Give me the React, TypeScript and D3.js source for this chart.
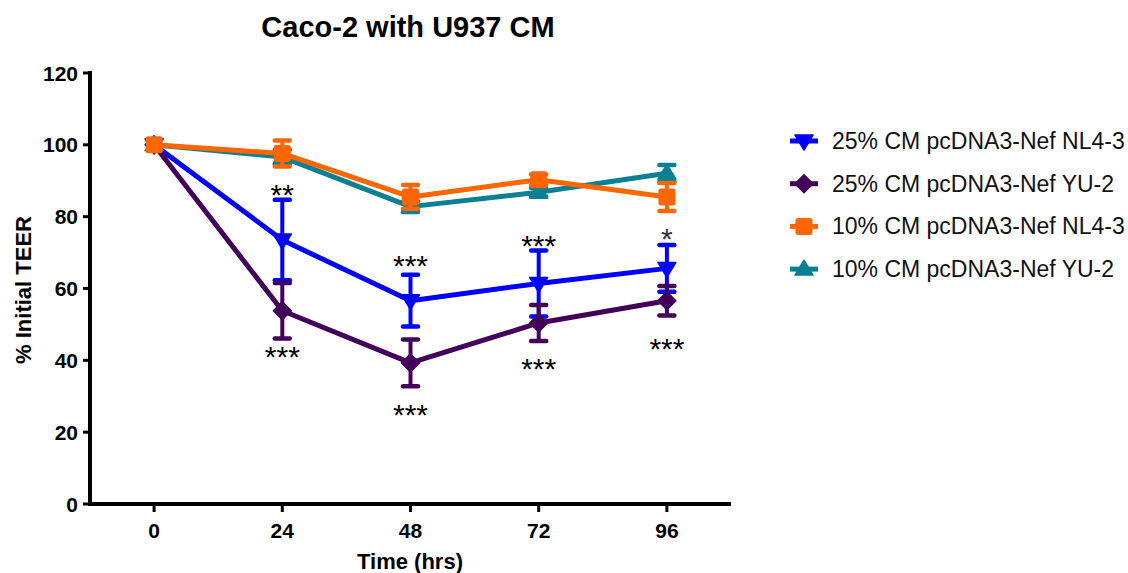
import React, { useRef, useEffect } from "react";
import * as d3 from "d3";

// time points (hrs)
const times = [0, 24, 48, 72, 96];
const xTicks = [0, 24, 48, 72, 96];
const yTicks = [0, 20, 40, 60, 80, 100, 120];

const seriesNames = [
  "25% CM pcDNA3-Nef NL4-3",
  "25% CM pcDNA3-Nef YU-2",
  "10% CM pcDNA3-Nef NL4-3",
  "10% CM pcDNA3-Nef YU-2",
];

const nl43_25 = [100, 73.5, 56.6, 61.4, 65.6];
const nl43_25Err = [0, 11.2, 7.2, 9.2, 6.5];
const yu2_25 = [100, 53.8, 39.3, 50.4, 56.6];
const yu2_25Err = [0, 7.7, 6.5, 5.0, 4.1];
const nl43_10 = [100, 97.6, 85.5, 90.3, 85.5];
const nl43_10Err = [0, 3.6, 3.3, 1.5, 3.9];
const yu2_10 = [100, 96.6, 82.8, 86.8, 92.1];
const yu2_10Err = [0, 2.0, 1.5, 1.2, 2.3];

// significance labels (label, y in % units) at 24, 48, 72, 96 hrs
const starsAbove = ["**", "***", "***", "*"];
const starsAboveY = [88, 68.2, 73.8, 75.8];
const starsBelow = ["***", "***", "***", "***"];
const starsBelowY = [42.9, 26.7, 39.6, 45.2];

const FONT = "'Liberation Sans', Arial, sans-serif";

const App = () => {
  const chartRef = useRef(null);

  useEffect(() => {
    const root = d3.select(chartRef.current);
    root.select("svg").remove();

    const width = 1128;
    const height = 573;

    const svg = root
      .append("svg")
      .attr("width", width)
      .attr("height", height)
      .style("position", "absolute")
      .style("left", "0px")
      .style("top", "0px")
      .style("font-family", FONT);

    const x = d3.scaleLinear().domain([-12, 108]).range([90, 731]);
    const y = d3.scaleLinear().domain([0, 120]).range([504, 73]);

    const series = [
      { name: seriesNames[0], vals: nl43_25, err: nl43_25Err, color: "#0000ff", shape: "tridown" },
      { name: seriesNames[1], vals: yu2_25, err: yu2_25Err, color: "#42005a", shape: "diamond" },
      { name: seriesNames[3], vals: yu2_10, err: yu2_10Err, color: "#0b7f93", shape: "triup" },
      { name: seriesNames[2], vals: nl43_10, err: nl43_10Err, color: "#ff6600", shape: "square" },
    ];

    const shapePath = (shape) => {
      if (shape === "tridown") return "M-9,-6L9,-6L0,9Z";
      if (shape === "triup") return "M-9,6L9,6L0,-9Z";
      if (shape === "diamond") return "M0,-9L9,0L0,9L-9,0Z";
      return null;
    };

    const drawMarker = (g, shape, color, cx, cy) => {
      if (shape === "square") {
        g.append("rect")
          .attr("x", cx - 8.5)
          .attr("y", cy - 8.5)
          .attr("width", 17)
          .attr("height", 17)
          .attr("rx", 2.5)
          .attr("fill", color);
      } else {
        g.append("path")
          .attr("d", shapePath(shape))
          .attr("transform", `translate(${cx},${cy})`)
          .attr("fill", color)
          .attr("stroke", color)
          .attr("stroke-width", 1.5)
          .attr("stroke-linejoin", "round");
      }
    };

    // axes
    const axisG = svg.append("g").attr("stroke", "#000");
    axisG.append("line").attr("x1", 90).attr("x2", 90).attr("y1", y(120) - 2).attr("y2", y(0) + 2).attr("stroke-width", 4);
    axisG.append("line").attr("x1", 88).attr("x2", 731).attr("y1", y(0)).attr("y2", y(0)).attr("stroke-width", 4);

    yTicks.forEach((t) => {
      axisG.append("line").attr("x1", 83).attr("x2", 90).attr("y1", y(t)).attr("y2", y(t)).attr("stroke-width", 3);
      svg
        .append("text")
        .attr("x", 78)
        .attr("y", y(t))
        .attr("text-anchor", "end")
        .attr("dominant-baseline", "central")
        .style("font-size", "21px")
        .style("font-weight", "bold")
        .text(t);
    });

    xTicks.forEach((t) => {
      axisG.append("line").attr("x1", x(t)).attr("x2", x(t)).attr("y1", y(0)).attr("y2", y(0) + 8).attr("stroke-width", 3);
      svg
        .append("text")
        .attr("x", x(t))
        .attr("y", 530)
        .attr("text-anchor", "middle")
        .attr("dominant-baseline", "central")
        .style("font-size", "21px")
        .style("font-weight", "bold")
        .text(t);
    });

    svg
      .append("text")
      .attr("x", 410)
      .attr("y", 561)
      .attr("text-anchor", "middle")
      .attr("dominant-baseline", "central")
      .style("font-size", "22px")
      .style("font-weight", "bold")
      .text("Time (hrs)");

    svg
      .append("text")
      .attr("transform", `translate(23,290) rotate(-90)`)
      .attr("text-anchor", "middle")
      .attr("dominant-baseline", "central")
      .style("font-size", "22px")
      .style("font-weight", "bold")
      .text("% Initial TEER");

    svg
      .append("text")
      .attr("x", 408)
      .attr("y", 27)
      .attr("text-anchor", "middle")
      .attr("dominant-baseline", "central")
      .style("font-size", "29px")
      .style("font-weight", "bold")
      .text("Caco-2 with U937 CM");

    // series
    const line = d3
      .line()
      .x((d) => x(d[0]))
      .y((d) => y(d[1]));

    series.forEach((s) => {
      const g = svg.append("g");
      const pts = times.map((t, i) => [t, s.vals[i]]);
      g.append("path")
        .attr("d", line(pts))
        .attr("fill", "none")
        .attr("stroke", s.color)
        .attr("stroke-width", 5)
        .attr("stroke-linejoin", "round");

      times.forEach((t, i) => {
        const e = s.err[i];
        if (!e) return;
        const cx = x(t);
        const top = y(s.vals[i] + e);
        const bot = y(s.vals[i] - e);
        g.append("line").attr("x1", cx).attr("x2", cx).attr("y1", top).attr("y2", bot).attr("stroke", s.color).attr("stroke-width", 4);
        [top, bot].forEach((cy) => {
          g.append("line")
            .attr("x1", cx - 7.5)
            .attr("x2", cx + 7.5)
            .attr("y1", cy)
            .attr("y2", cy)
            .attr("stroke", s.color)
            .attr("stroke-width", 4.5)
            .attr("stroke-linecap", "round");
        });
      });

      times.forEach((t, i) => drawMarker(g, s.shape, s.color, x(t), y(s.vals[i])));
    });

    // significance stars
    const starSize = 30;
    const starG = svg.append("g").style("font-size", `${starSize}px`).attr("text-anchor", "middle");
    times.slice(1).forEach((t, i) => {
      starG
        .append("text")
        .attr("x", x(t))
        .attr("y", y(starsAboveY[i]) + starSize * 0.57)
        .attr("fill", i === 3 ? "#303046" : "#000")
        .text(starsAbove[i]);
      starG
        .append("text")
        .attr("x", x(t))
        .attr("y", y(starsBelowY[i]) + starSize * 0.57)
        .attr("fill", "#000")
        .text(starsBelow[i]);
    });

    // legend
    const legendOrder = [series[0], series[1], series[3], series[2]];
    const legend = svg
      .selectAll(".legend")
      .data(legendOrder)
      .enter()
      .append("g")
      .attr("class", "legend")
      .attr("transform", (_, i) => `translate(804, ${141 + i * 42.7})`);

    legend
      .append("line")
      .attr("x1", -14)
      .attr("x2", 14)
      .attr("stroke", (d) => d.color)
      .attr("stroke-width", 5);

    legend.each(function (d) {
      drawMarker(d3.select(this), d.shape, d.color, 0, 0);
    });

    legend
      .append("text")
      .attr("x", 28)
      .attr("y", 0)
      .attr("dominant-baseline", "central")
      .style("font-size", "23px")
      .attr("fill", "#111")
      .text((d) => d.name);
  }, []);

  return <div ref={chartRef}></div>;
};

export default App;
